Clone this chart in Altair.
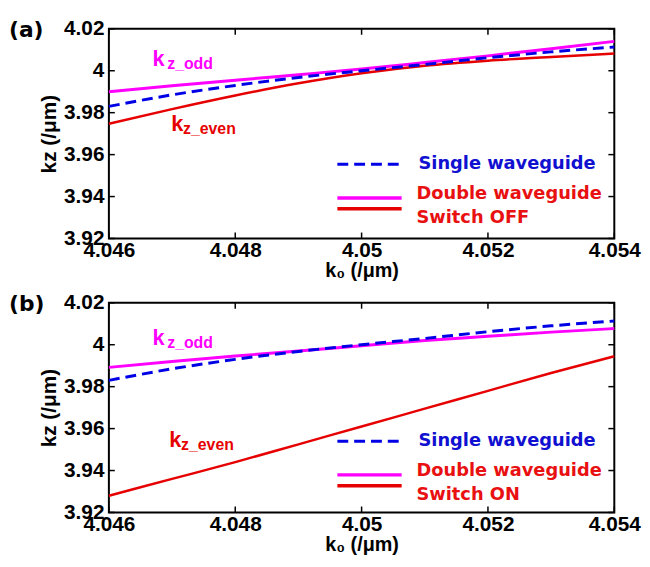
import altair as alt
import pandas as pd

# ---- data ----
k0 = [4.046, 4.047, 4.048, 4.049, 4.050, 4.051, 4.052, 4.053, 4.054]
single = [3.983, 3.9885, 3.993, 3.9968, 4.0, 4.003, 4.0062, 4.009, 4.0113]
odd_off = [3.990, 3.9928, 3.9955, 3.9981, 4.0008, 4.0039, 4.0071, 4.0105, 4.014]
even_off = [3.9747, 3.9817, 3.9882, 3.994, 3.9988, 4.0024, 4.0048, 4.0066, 4.0082]
odd_on = [3.9892, 3.992, 3.9946, 3.997, 3.9995, 4.002, 4.004, 4.006, 4.0077]
even_on = [3.928, 3.936, 3.944, 3.9525, 3.961, 3.9695, 3.978, 3.9865, 3.9945]

x_ticks = [4.046, 4.048, 4.05, 4.052, 4.054]
y_ticks = [3.92, 3.94, 3.96, 3.98, 4.0, 4.02]
panel_tags = ["(a)", "(b)"]
legend_single = "Single waveguide"
legend_double = "Double waveguide"
switch_labels = ["Switch OFF", "Switch ON"]
odd_label = ["k", "z_odd"]
even_label = ["k", "z_even"]
x_title = "k\u2080 (/\u03bcm)"
y_title = "kz (/\u03bcm)"

W, H = 511, 212
FONT = "Liberation Sans"
LFONT = "DejaVu Sans"
BLUE = "#0000E6"
RED = "#E60000"
MAG = "#FF00FF"
TBLUE = "#1010D0"
TRED = "#E81010"

xs = alt.Scale(domain=[4.046, 4.054], nice=False, zero=False)
ys = alt.Scale(domain=[3.92, 4.02], nice=False, zero=False)
xax = alt.Axis(values=x_ticks, format=".3~f", title=x_title, ticks=False, domain=False,
               grid=False, labelFont=FONT, labelFontSize=21, labelFontWeight="bold",
               labelColor="black", labelPadding=1, labelFlush=False, labelOverlap=False,
               titleFont=FONT, titleFontSize=20, titleFontWeight="bold", titleColor="black",
               titlePadding=0)
yax = alt.Axis(values=y_ticks, format=".2~f", title=y_title, ticks=False, domain=False,
               grid=False, labelFont=FONT, labelFontSize=21, labelFontWeight="bold",
               labelColor="black", labelPadding=5, labelFlush=False, labelOverlap=False,
               titleFont=FONT, titleFontSize=21, titleFontWeight="bold", titleColor="black",
               titlePadding=4)


def line(vals, color, width, dash=None):
    kw = dict(color=color, strokeWidth=width, interpolate="monotone")
    if dash:
        kw["strokeDash"] = dash
    return alt.Chart(pd.DataFrame({"k0": k0, "kz": vals})).mark_line(**kw).encode(
        x=alt.X("k0:Q", scale=xs, axis=xax), y=alt.Y("kz:Q", scale=ys, axis=yax))


def text(t, px, py, color, size, font=FONT, align="left", baseline="alphabetic"):
    return alt.Chart(pd.DataFrame({"t": [t]})).mark_text(
        align=align, baseline=baseline, font=font, fontSize=size, fontWeight="bold",
        color=color).encode(text="t:N", x=alt.value(px), y=alt.value(py))


def seg(x1, x2, py, color, width, dash=None):
    kw = dict(color=color, strokeWidth=width)
    if dash:
        kw["strokeDash"] = dash
    return alt.Chart(pd.DataFrame({"d": [0]})).mark_rule(**kw).encode(
        x=alt.value(x1), x2=alt.value(x2), y=alt.value(py))


def ticks():
    xt = alt.Chart(pd.DataFrame({"v": x_ticks})).mark_rule(color="black", strokeWidth=1.5)
    yt = alt.Chart(pd.DataFrame({"v": y_ticks})).mark_rule(color="black", strokeWidth=1.5)
    return [
        xt.encode(x=alt.X("v:Q", scale=xs, axis=xax), y=alt.value(0), y2=alt.value(6)),
        xt.encode(x=alt.X("v:Q", scale=xs, axis=xax), y=alt.value(H), y2=alt.value(H - 6)),
        yt.encode(y=alt.Y("v:Q", scale=ys, axis=yax), x=alt.value(0), x2=alt.value(6)),
        yt.encode(y=alt.Y("v:Q", scale=ys, axis=yax), x=alt.value(W - 6), x2=alt.value(W)),
    ]


def panel(i, odd, even, odd_pos, even_pos, leg_dy):
    layers = [line(odd, MAG, 3), line(even, RED, 2.5), line(single, BLUE, 3, [11, 6])]
    layers += ticks()
    # curve labels
    layers += [
        text(odd_label[0], odd_pos[0], odd_pos[1], MAG, 22),
        text(odd_label[1], odd_pos[0] + 15, odd_pos[1] + 3, MAG, 16),
        text(even_label[0], even_pos[0], even_pos[1], RED, 22),
        text(even_label[1], even_pos[0] + 12, even_pos[1] + 3, RED, 16),
    ]
    # legend
    layers += [
        seg(231, 293, 137 + leg_dy, BLUE, 3, [11, 6]),
        text(legend_single, 313, 137 + leg_dy, TBLUE, 18, LFONT, baseline="middle"),
        seg(231, 296, 171 + leg_dy, MAG, 3.5),
        seg(231, 296, 182 + leg_dy, RED, 3.5),
        text(legend_double, 311, 167 + leg_dy, TRED, 18, LFONT, baseline="middle"),
        text(switch_labels[i], 311, 191 + leg_dy, TRED, 18, LFONT, baseline="middle"),
    ]
    # panel tag
    layers.append(text(panel_tags[i], -101, 1, "black", 22, LFONT, baseline="middle"))
    return alt.layer(*layers).properties(width=W, height=H)


a = panel(0, odd_off, even_off, (44, 38), (63, 103), 0)
b = panel(1, odd_on, even_on, (44, 43), (61, 146), 3)

chart = alt.vconcat(a, b, spacing=10).configure_view(stroke="black", strokeWidth=2).properties(
    background="white", padding={"left": 0, "top": 6, "right": 0, "bottom": 0})

chart.save("out.html", embed_options={"renderer": "svg", "actions": False})
